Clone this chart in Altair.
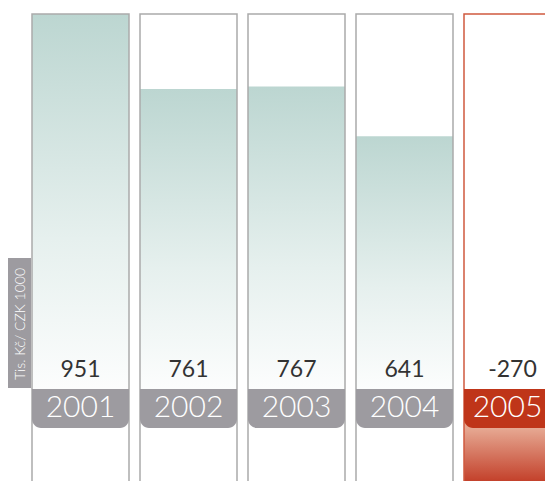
import altair as alt
import pandas as pd

years = ["2001", "2002", "2003", "2004", "2005"]
values = [951, 761, 767, 641, -270]
value_labels = ["951", "761", "767", "641", "-270"]
axis_label = "Tis. Kč/ CZK 1000"

df = pd.DataFrame({"year": years, "value": values, "label": value_labels})
df["top"] = max(values)

W, H = 537, 473
base_px = 381          # pixel position of zero
k = 375 / 951          # pixels per unit
y_lo = -(H - base_px) / k
y_hi = base_px / k

GRAY = "#9d9ba0"
RED = "#bf3519"
BORDER = "#aaaaaa"
RED_BORDER = "#cf5a3f"

x_enc = alt.X("year:N", axis=None,
              scale=alt.Scale(range=[24, 553], paddingInner=11 / 108, paddingOuter=0))
y_scale = alt.Scale(domain=[y_lo, y_hi], nice=False, zero=False)

base = alt.Chart(df)

teal_grad = alt.Gradient(
    gradient="linear",
    stops=[alt.GradientStop(color="#bcd6d1", offset=0),
           alt.GradientStop(color="#e6f0ee", offset=0.6),
           alt.GradientStop(color="#fcfdfd", offset=1)],
    x1=0, x2=0, y1=0, y2=1,
)
red_grad = alt.Gradient(
    gradient="linear",
    stops=[alt.GradientStop(color="#e8ae9a", offset=0),
           alt.GradientStop(color="#e6a892", offset=0.37),
           alt.GradientStop(color="#c3402a", offset=0.87),
           alt.GradientStop(color="#bf3519", offset=1)],
    x1=0, x2=0, y1=0, y2=1,
)

pos_bars = base.transform_filter(alt.datum.value > 0).mark_bar(
    color=teal_grad, clip=True
).encode(x=x_enc, y=alt.Y("value:Q", scale=y_scale, axis=None), y2=alt.datum(0))

neg_bars = base.transform_filter(alt.datum.value < 0).mark_bar(
    color=red_grad, clip=True
).encode(x=x_enc, y=alt.Y("value:Q", scale=y_scale, axis=None), y2=alt.datum(0))

boxes = base.mark_bar(fillOpacity=0, strokeWidth=1.5, clip=True).encode(
    x=x_enc,
    y=alt.Y("top:Q", scale=y_scale, axis=None),
    y2=alt.datum(-600),
    stroke=alt.condition(alt.datum.value < 0, alt.value(RED_BORDER), alt.value(BORDER)),
)

bands = base.mark_bar(y2Offset=39, cornerRadiusBottomLeft=9, cornerRadiusBottomRight=9,
                      clip=True).encode(
    x=x_enc,
    y=alt.datum(0, scale=y_scale),
    y2=alt.datum(0),
    color=alt.condition(alt.datum.value < 0, alt.value(RED), alt.value(GRAY)),
)

value_text = base.mark_text(
    baseline="alphabetic", yOffset=-12, fontSize=23, font="Lato",
    color="#333333", clip=True
).encode(x=x_enc, y=alt.datum(0, scale=y_scale), text="label:N")

year_style = dict(baseline="alphabetic", yOffset=28, fontSize=30, font="Lato",
                  fontWeight=300, color="white", clip=True)
year_text = base.transform_filter(alt.datum.value >= 0).mark_text(**year_style).encode(
    x=x_enc, y=alt.datum(0, scale=y_scale), text="year:N")
year_text_last = base.transform_filter(alt.datum.value < 0).mark_text(
    dx=-5, **year_style).encode(
    x=x_enc, y=alt.datum(0, scale=y_scale), text="year:N")

lab_df = pd.DataFrame({"t": [axis_label]})
lab_rect = alt.Chart(lab_df).mark_rect(color=GRAY, y2Offset=-1, yOffset=-131).encode(
    x=alt.value(0), x2=alt.value(23),
    y=alt.datum(0, scale=y_scale), y2=alt.datum(0),
)
lab_text = alt.Chart(lab_df).mark_text(
    angle=270, color="white", fontSize=14, font="Lato", fontWeight=300, baseline="middle",
    align="center", yOffset=-65, xOffset=1
).encode(x=alt.value(11.5), y=alt.datum(0, scale=y_scale), text="t:N")

chart = alt.layer(
    pos_bars, neg_bars, boxes, bands, value_text, year_text, year_text_last,
    lab_rect, lab_text
).properties(
    width=W, height=H, padding=0, autosize=alt.AutoSizeParams(type="none")
).configure_view(stroke=None)

chart.save("out.html", embed_options={"renderer": "svg", "actions": False})
